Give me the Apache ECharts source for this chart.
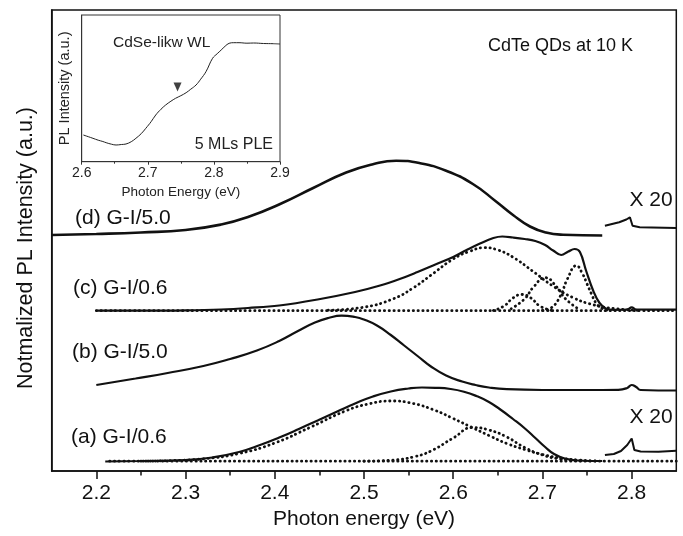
<!DOCTYPE html>
<html>
<head>
<meta charset="utf-8">
<script src="https://cdn.jsdelivr.net/npm/echarts@6/dist/echarts.min.js"></script>
<style>html,body{margin:0;padding:0;background:#fff;}#c{width:683px;height:536px;}</style>
</head>
<body>
<div id="c"></div>
<script>
// ---- x tick values (eV) ----
var xMajorTicks = [2.2, 2.3, 2.4, 2.5, 2.6, 2.7, 2.8];
var xMinorTicks = [2.25, 2.35, 2.45, 2.55, 2.65, 2.75];
var insetMajorTicks = [2.6, 2.7, 2.8, 2.9];
var insetMinorTicks = [2.65, 2.75, 2.85];

// ---- (a) G-I/0.6 ----
var aSolid = [[2.21,9.5],[2.25,10],[2.30,11],[2.33,13.5],[2.36,19],[2.385,26.5],[2.405,33.5],[2.427,42],[2.448,50.5],[2.47,59.5],[2.49,67.5],[2.51,74.5],[2.53,79.5],[2.55,82.5],[2.565,83.5],[2.58,83.2],[2.597,82],[2.612,79.3],[2.626,75],[2.64,69],[2.652,62],[2.667,52],[2.681,42],[2.692,33],[2.703,24],[2.713,17],[2.725,12.5],[2.74,10.5],[2.767,10]];
var aX20 = [[2.77,16],[2.78,17],[2.788,20],[2.795,26],[2.80,32.5],[2.803,21],[2.81,19.5],[2.83,19.3],[2.85,20.3]];
var aFit1 = [[2.25,9.8],[2.28,10.3],[2.32,12.2],[2.36,17.5],[2.40,28],[2.44,43.8],[2.48,60.3],[2.505,67],[2.53,70],[2.555,67.5],[2.58,60.5],[2.60,52.5],[2.62,44],[2.64,35.5],[2.66,27.5],[2.68,21.5],[2.70,16.5],[2.72,13],[2.74,11],[2.76,10]];
var aFit2 = [[2.50,9.8],[2.533,11],[2.555,14],[2.575,20],[2.60,33],[2.622,43.5],[2.64,41],[2.66,34],[2.68,23.5],[2.70,16],[2.72,12],[2.745,10]];
var aBase = [[2.215,9.8],[2.85,9.8]];

// ---- (b) G-I/5.0 ----
var bSolid = [[2.20,86],[2.244,92.5],[2.28,98],[2.32,105],[2.35,112],[2.38,120.5],[2.405,130],[2.426,140],[2.445,148.5],[2.46,153],[2.475,155.3],[2.49,154],[2.50,151.5],[2.515,145.3],[2.53,136],[2.545,125.5],[2.56,115],[2.575,104.5],[2.592,95.5],[2.61,89.5],[2.625,86],[2.64,83.5],[2.66,81.8],[2.70,81],[2.75,81],[2.785,81.2],[2.795,83],[2.80,86],[2.805,84],[2.81,81],[2.85,80.5]];

// ---- (c) G-I/0.6 ----
var cSolid = [[2.20,160.3],[2.25,160.3],[2.30,160.6],[2.34,161.5],[2.37,163],[2.405,165.5],[2.448,171.5],[2.49,179],[2.518,185.5],[2.54,192],[2.56,199],[2.58,206.5],[2.60,214],[2.615,221],[2.63,227.5],[2.645,233],[2.655,234.5],[2.667,233.5],[2.68,232],[2.692,230],[2.703,226],[2.712,220.5],[2.721,216],[2.729,219.5],[2.736,222],[2.742,219],[2.749,200],[2.757,180],[2.764,168],[2.771,162.5],[2.78,161.2],[2.795,161.5],[2.80,163.7],[2.805,161.5],[2.85,161.3]];
var cFit1 = [[2.46,160.8],[2.50,163.8],[2.533,172.3],[2.555,183],[2.575,195.8],[2.60,212],[2.618,219.5],[2.635,223.3],[2.65,221],[2.667,213.8],[2.689,199.9],[2.712,184.8],[2.734,173.5],[2.757,166.2],[2.78,162.5],[2.81,160.6]];
var cFit2 = [[2.645,160.5],[2.657,165],[2.667,173],[2.677,176.5],[2.687,173],[2.697,165],[2.71,160.5]];
var cFit3 = [[2.665,162.3],[2.68,172.1],[2.69,184],[2.703,193.3],[2.716,184],[2.726,172.1],[2.74,162.3]];
var cFit4 = [[2.70,160.6],[2.71,163.3],[2.72,174.9],[2.728,192.1],[2.738,205.3],[2.745,197],[2.75,187],[2.755,177],[2.76,168],[2.767,162.5],[2.775,160.5]];
var cBase = [[2.20,160.3],[2.85,160.3]];

// ---- (d) G-I/5.0 ----
var dSolid = [[2.15,236],[2.20,237],[2.25,238.5],[2.30,241],[2.34,246.5],[2.37,254],[2.406,267],[2.443,283],[2.48,298.5],[2.51,306.8],[2.536,310.3],[2.562,308],[2.592,300.3],[2.622,287],[2.648,269.5],[2.667,256],[2.686,244.5],[2.704,238.5],[2.723,236.3],[2.767,235.5]];
var dX20 = [[2.77,245.3],[2.786,248.7],[2.794,251.5],[2.798,253.7],[2.801,245.3],[2.809,243.7],[2.85,243]];

// ---- inset: PLE of 5 MLs ----
var insetPLE = [[2.6025,26.7],[2.61,25],[2.617,23.4],[2.625,21.5],[2.632,20.2],[2.637,19],[2.645,17.5],[2.652,16.7],[2.66,17.2],[2.667,17.7],[2.675,20],[2.682,23.4],[2.69,28],[2.697,33.4],[2.705,40],[2.712,46.7],[2.72,52.5],[2.727,56.7],[2.735,60.5],[2.742,63.4],[2.75,66],[2.758,69],[2.765,72.5],[2.773,76.7],[2.78,82.5],[2.788,90],[2.798,103.4],[2.805,108],[2.811,111.7],[2.817,115.5],[2.823,118.4],[2.83,119],[2.838,119],[2.85,118.5],[2.86,118.7],[2.875,118.2],[2.89,118],[2.9,117.7]];
var insetMark = [[2.745,74.7]];

var FONT = 'Liberation Sans, Arial, Helvetica, sans-serif';
var BLACK = '#111';

function dotted(data) {
  return {type:'line', xAxisIndex:0, yAxisIndex:0, data:data, showSymbol:false, smooth:0.5,
    lineStyle:{color:BLACK, width:2.8, type:[0.3,4.5], cap:'round'}, silent:true, z:2};
}
function solid(data, w, sm) {
  return {type:'line', xAxisIndex:0, yAxisIndex:0, data:data, showSymbol:false, smooth:sm,
    lineStyle:{color:BLACK, width:w}, silent:true, z:3};
}

var chart = echarts.init(document.getElementById('c'), null, {renderer:'canvas'});
chart.setOption({
  animation:false,
  backgroundColor:'#fff',
  grid:[
    {left:51.7, top:10, right:6.7, bottom:65, show:true, borderColor:BLACK, borderWidth:1.5, outerBoundsMode:'none', containLabel:false},
    {left:81.7, top:15, width:198.3, height:146.7, show:true, borderColor:'#333', borderWidth:1, outerBoundsMode:'none', containLabel:false}
  ],
  xAxis:[
    {gridIndex:0, position:'bottom', type:'value', min:2.15, max:2.85, splitLine:{show:false},
     axisLine:{show:true, onZero:false, lineStyle:{color:BLACK, width:1.5}},
     axisTick:{show:true, inside:false, length:8, customValues:xMajorTicks, lineStyle:{color:BLACK, width:1.5}},
     axisLabel:{show:true, customValues:xMajorTicks, margin:12, fontSize:21, fontFamily:FONT, color:BLACK,
       formatter:function(v){return v.toFixed(1);}},
     name:'Photon energy (eV)', nameLocation:'middle', nameGap:38,
     nameTextStyle:{fontSize:21, fontFamily:FONT, color:BLACK}},
    {gridIndex:0, position:'bottom', type:'value', min:2.15, max:2.85, splitLine:{show:false},
     axisLine:{show:false, onZero:false},
     axisTick:{show:true, inside:false, length:4.5, customValues:xMinorTicks, lineStyle:{color:BLACK, width:1.5}},
     axisLabel:{show:false}},
    {gridIndex:1, position:'bottom', type:'value', min:2.6, max:2.9, splitLine:{show:false},
     axisLine:{show:true, onZero:false, lineStyle:{color:'#333', width:1}},
     axisTick:{show:true, inside:false, length:3, customValues:insetMajorTicks, lineStyle:{color:'#333'}},
     axisLabel:{show:true, customValues:insetMajorTicks, margin:4, fontSize:14, fontFamily:FONT, color:'#222',
       formatter:function(v){return v.toFixed(1);}},
     name:'Photon Energy (eV)', nameLocation:'middle', nameGap:24,
     nameTextStyle:{fontSize:13.5, fontFamily:FONT, color:'#222'}},
    {gridIndex:1, position:'bottom', type:'value', min:2.6, max:2.9, splitLine:{show:false},
     axisLine:{show:false, onZero:false},
     axisTick:{show:true, inside:false, length:2, customValues:insetMinorTicks, lineStyle:{color:'#333'}},
     axisLabel:{show:false}}
  ],
  yAxis:[
    {gridIndex:0, position:'left', type:'value', min:0, max:461, splitLine:{show:false},
     axisLine:{show:true, onZero:false, lineStyle:{color:BLACK, width:1.5}},
     axisTick:{show:false}, axisLabel:{show:false}},
    {gridIndex:1, position:'left', type:'value', min:0, max:146.7, splitLine:{show:false},
     axisLine:{show:true, onZero:false, lineStyle:{color:'#333', width:1}},
     axisTick:{show:false}, axisLabel:{show:false},
     name:'PL Intensity (a.u.)', nameLocation:'middle', nameGap:9,
     nameTextStyle:{fontSize:14.5, fontFamily:FONT, color:'#222'}}
  ],
  series:[
    dotted(aBase), dotted(aFit1), dotted(aFit2),
    dotted(cBase), dotted(cFit1), dotted(cFit2), dotted(cFit3), dotted(cFit4),
    solid(aSolid, 2.2, 0.5), solid(aX20, 2, false),
    solid(bSolid, 2.2, 0.5),
    solid(cSolid, 2.2, 0.4),
    solid(dSolid, 2.6, 0.5), solid(dX20, 2, false),
    {type:'line', xAxisIndex:2, yAxisIndex:1, data:insetPLE, showSymbol:false, smooth:0.4,
     lineStyle:{color:'#222', width:1}, silent:true},
    {type:'scatter', xAxisIndex:2, yAxisIndex:1, data:insetMark, symbol:'triangle', symbolRotate:180, symbolSize:[8,9],
     itemStyle:{color:BLACK}, silent:true}
  ],
  graphic:[
    {type:'text', x:26, y:248, rotation:Math.PI/2, style:{text:'Notmalized PL Intensity (a.u.)', fontSize:21.5, fontFamily:FONT, fill:BLACK, align:'center', verticalAlign:'middle'}},
    {type:'text', x:75, y:218, style:{text:'(d) G-I/5.0', fontSize:21, fontFamily:FONT, fill:BLACK, align:'left', verticalAlign:'middle'}},
    {type:'text', x:73, y:288, style:{text:'(c) G-I/0.6', fontSize:21, fontFamily:FONT, fill:BLACK, align:'left', verticalAlign:'middle'}},
    {type:'text', x:72, y:352, style:{text:'(b) G-I/5.0', fontSize:21, fontFamily:FONT, fill:BLACK, align:'left', verticalAlign:'middle'}},
    {type:'text', x:71, y:437, style:{text:'(a) G-I/0.6', fontSize:21, fontFamily:FONT, fill:BLACK, align:'left', verticalAlign:'middle'}},
    {type:'text', x:651, y:200, style:{text:'X 20', fontSize:21, fontFamily:FONT, fill:BLACK, align:'center', verticalAlign:'middle'}},
    {type:'text', x:651, y:417, style:{text:'X 20', fontSize:21, fontFamily:FONT, fill:BLACK, align:'center', verticalAlign:'middle'}},
    {type:'text', x:488, y:46, style:{text:'CdTe QDs at 10 K', fontSize:18, fontFamily:FONT, fill:BLACK, align:'left', verticalAlign:'middle'}},
    {type:'text', x:113, y:43, style:{text:'CdSe-likw WL', fontSize:15.5, fontFamily:FONT, fill:'#222', align:'left', verticalAlign:'middle'}},
    {type:'text', x:273, y:145, style:{text:'5 MLs PLE', fontSize:16, fontFamily:FONT, fill:'#222', align:'right', verticalAlign:'middle'}}
  ]
});
</script>
</body>
</html>
